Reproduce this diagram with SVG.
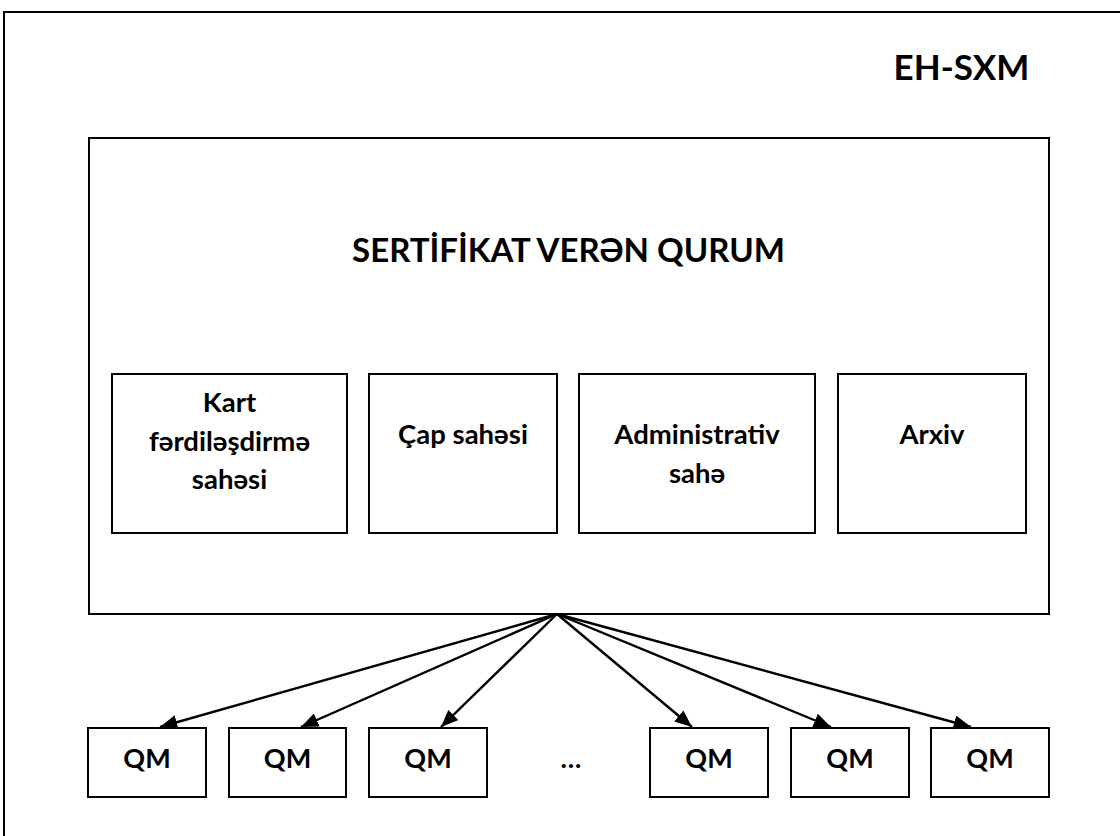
<svg xmlns="http://www.w3.org/2000/svg" width="1120" height="836" viewBox="0 0 1120 836">
<defs>
<style>
.box{fill:#fff;stroke:#000;stroke-width:2}
.frame{fill:#fff;stroke:#000;stroke-width:2}
.t{font-family:Lato,"Open Sans","Liberation Sans",sans-serif;font-weight:bold;fill:#000;text-anchor:middle}
.edge{stroke:#000;stroke-width:2.4;fill:none;marker-end:url(#ah)}
</style>
<marker id="ah" viewBox="0 0 12 10" refX="12" refY="5" markerWidth="7.2" markerHeight="6" markerUnits="strokeWidth" orient="auto">
<path d="M0,0 L12,5 L0,10 z" fill="#000"/>
</marker>
</defs>
<rect width="1120" height="836" fill="#fff"/>
<g id="frame">
<rect class="frame" x="4" y="12" width="1130" height="840"/>
<text class="t" x="961.5" y="80" font-size="35">EH-SXM</text>
</g>
<g id="ca">
<rect class="box" x="89" y="138" width="960" height="476"/>
<text class="t" x="568.5" y="262" font-size="33">SERTİFİKAT VERƏN QURUM</text>
</g>
<g id="kart">
<rect class="box" x="112" y="374" width="235" height="159"/>
<text class="t" x="229.5" y="412" font-size="27.5">Kart</text>
<text class="t" x="229.5" y="451" font-size="27.5">fərdiləşdirmə</text>
<text class="t" x="229.5" y="489" font-size="27.5">sahəsi</text>
</g>
<g id="cap">
<rect class="box" x="369" y="374" width="188" height="159"/>
<text class="t" x="463" y="444" font-size="27.5">Çap sahəsi</text>
</g>
<g id="admin">
<rect class="box" x="579" y="374" width="236" height="159"/>
<text class="t" x="697" y="444" font-size="27.5">Administrativ</text>
<text class="t" x="697" y="483" font-size="27.5">sahə</text>
</g>
<g id="arxiv">
<rect class="box" x="838" y="374" width="188" height="159"/>
<text class="t" x="932" y="444" font-size="27.5">Arxiv</text>
</g>
<g id="qm1"><rect class="box" x="88" y="728" width="118" height="69"/><text class="t" x="147" y="768" font-size="27">QM</text></g>
<g id="qm2"><rect class="box" x="229" y="728" width="117" height="69"/><text class="t" x="287.5" y="768" font-size="27">QM</text></g>
<g id="qm3"><rect class="box" x="369" y="728" width="118" height="69"/><text class="t" x="428" y="768" font-size="27">QM</text></g>
<g id="dots"><text class="t" x="571" y="768" font-size="27">…</text></g>
<g id="qm4"><rect class="box" x="650" y="728" width="118" height="69"/><text class="t" x="709" y="768" font-size="27">QM</text></g>
<g id="qm5"><rect class="box" x="791" y="728" width="118" height="69"/><text class="t" x="850" y="768" font-size="27">QM</text></g>
<g id="qm6"><rect class="box" x="931" y="728" width="118" height="69"/><text class="t" x="990" y="768" font-size="27">QM</text></g>
<g id="connectors">
<line class="edge" x1="557" y1="614" x2="160" y2="727"/>
<line class="edge" x1="557" y1="614" x2="301" y2="727"/>
<line class="edge" x1="557" y1="614" x2="441" y2="727"/>
<line class="edge" x1="557" y1="614" x2="692" y2="727"/>
<line class="edge" x1="557" y1="614" x2="831" y2="727"/>
<line class="edge" x1="557" y1="614" x2="971" y2="727"/>
</g>
</svg>
